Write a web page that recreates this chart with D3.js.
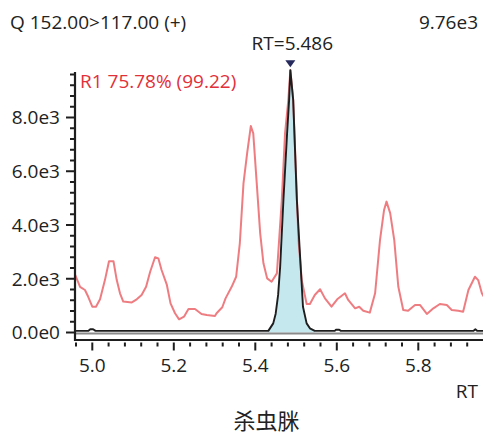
<!DOCTYPE html>
<html><head><meta charset="utf-8">
<script src="https://cdn.jsdelivr.net/npm/d3@7"></script>
<style>body{margin:0;background:#fff}svg{display:block;font-family:"Open Sans",sans-serif}</style>
</head><body><div id="chart"></div>
<script>
// ---- data ----
const title = "杀虫脒";
const headerLeft = "Q 152.00>117.00 (+)";
const headerRight = "9.76e3";
const peakLabel = "RT=5.486";
const ratioLabel = "R1 75.78% (99.22)";
const peakRT = 5.486;
const peakMax = 9760;
const xTickLabels = [5.0, 5.2, 5.4, 5.6, 5.8];
const yTickLabels = [0, 2000, 4000, 6000, 8000];
// qualifier trace (red)
const qualRT = [4.958,4.970,4.982,4.990,5.000,5.009,5.019,5.031,5.041,5.052,5.060,5.068,5.076,5.097,5.109,5.121,5.132,5.142,5.154,5.162,5.170,5.183,5.192,5.203,5.213,5.225,5.236,5.252,5.268,5.281,5.301,5.305,5.319,5.327,5.342,5.353,5.362,5.371,5.380,5.389,5.395,5.403,5.412,5.420,5.429,5.440,5.453,5.465,5.473,5.481,5.486,5.493,5.506,5.514,5.526,5.534,5.546,5.559,5.571,5.587,5.601,5.620,5.628,5.645,5.655,5.665,5.681,5.694,5.706,5.716,5.722,5.731,5.741,5.751,5.763,5.775,5.792,5.804,5.821,5.837,5.853,5.870,5.882,5.898,5.910,5.923,5.939,5.947,5.956,5.962];
const qualInt = [2140,1700,1580,1330,960,960,1235,1950,2650,2650,1950,1460,1150,1120,1235,1395,1700,2260,2800,2760,2325,1770,1085,715,490,590,875,875,690,650,615,715,940,1270,1700,2075,3320,5550,6670,7680,7410,5670,3690,2575,2015,1890,2200,4930,7420,8650,9760,8650,3440,1950,1060,1060,1395,1610,1270,960,1235,1460,1210,900,960,810,740,1460,3440,4560,4870,4440,3440,1700,840,810,1025,1025,690,900,1060,1025,840,810,775,1580,2075,1950,1460,1300];
// quantifier trace (black)
const quantRT = [4.958,4.990,4.995,5.002,5.008,5.432,5.444,5.450,5.456,5.461,5.469,5.478,5.483,5.486,5.493,5.502,5.509,5.517,5.526,5.534,5.546,5.595,5.598,5.606,5.610,5.935,5.940,5.945,5.962];
const quantInt = [60,60,120,120,60,60,340,700,1400,2450,4930,7410,8650,9760,8650,4930,3070,960,340,155,60,60,100,100,60,60,120,60,60];
const fillStart = 5.432, fillEnd = 5.546;

// ---- layout ----
const W = 483, H = 437;
const svg = d3.select("#chart").append("svg").attr("width", W).attr("height", H);
const x = d3.scaleLinear().domain([5.0, 5.8]).range([92.3, 418.3]);
const y = d3.scaleLinear().domain([0, 8000]).range([332.5, 117.5]);
const xLeft = x.invert(75), xRight = x.invert(W);

svg.append("clipPath").attr("id","clip").append("rect")
  .attr("x",76).attr("y",0).attr("width",W-76).attr("height",338);

const plot = svg.append("g").attr("clip-path","url(#clip)");
const qual = qualRT.map((r,i)=>[r,qualInt[i]]);
const quant = quantRT.map((r,i)=>[r,quantInt[i]]);
const line = d3.line().x(d=>x(d[0])).y(d=>y(d[1]));
const area = d3.area().x(d=>x(d[0])).y0(y(0)).y1(d=>y(d[1]));

plot.append("path").datum(quant.filter(d=>d[0]>=fillStart && d[0]<=fillEnd))
  .attr("d", area).attr("fill","#c5e7ee");
plot.append("path").datum(qual).attr("d", line)
  .attr("fill","none").attr("stroke","#ee7d82").attr("stroke-width",2).attr("stroke-linejoin","round");
plot.append("line").attr("x1",x(xLeft)).attr("x2",x(xRight)).attr("y1",y(0)+1).attr("y2",y(0)+1)
  .attr("stroke","#8a8a8a").attr("stroke-width",2);
plot.append("path").datum(quant).attr("d", line)
  .attr("fill","none").attr("stroke","#1e1e1e").attr("stroke-width",1.9).attr("stroke-linejoin","round");

// peak marker
const px = x(peakRT), py = y(peakMax) - 10;
svg.append("path").attr("d", `M${px-5},${py} L${px+5},${py} L${px},${py+7} Z`).attr("fill","#262a5c");

// ---- axes ----
const axisColor = "#1e1e1e";
svg.append("line").attr("x1",75).attr("x2",75).attr("y1",72).attr("y2",341).attr("stroke",axisColor).attr("stroke-width",2.2);
svg.append("line").attr("x1",74).attr("x2",W).attr("y1",340).attr("y2",340).attr("stroke",axisColor).attr("stroke-width",2.2);

const yMinor = d3.range(0, 9601, 400);
svg.append("g").selectAll("line").data(yMinor).join("line")
  .attr("x1", d => d % 2000 === 0 ? 66 : 70).attr("x2", 74)
  .attr("y1", d => y(d)).attr("y2", d => y(d))
  .attr("stroke", axisColor).attr("stroke-width", 2);
const fmtY = v => v === 0 ? "0.0e0" : (v/1000).toFixed(1) + "e3";
svg.append("g").selectAll("text").data(yTickLabels).join("text")
  .attr("x", 60).attr("y", d => y(d)).attr("dy","0.36em").attr("text-anchor","end")
  .attr("font-size",19).attr("fill","#222").text(fmtY);

const xMinor = d3.range(0, 25).map(i => +(4.96 + i*0.04).toFixed(2));
svg.append("g").selectAll("line").data(xMinor).join("line")
  .attr("x1", d => x(d)).attr("x2", d => x(d))
  .attr("y1", 342.5).attr("y2", d => (Math.round(d*100) % 20 === 0) ? 350.5 : 346.5)
  .attr("stroke", axisColor).attr("stroke-width", 2);
svg.append("g").selectAll("text").data(xTickLabels).join("text")
  .attr("x", d => x(d)).attr("y", 372).attr("text-anchor","middle")
  .attr("font-size",19).attr("fill","#222").text(d => d.toFixed(1));

// ---- texts ----
svg.append("text").attr("x",10).attr("y",29).attr("font-size",19).attr("fill","#222").text(headerLeft);
svg.append("text").attr("x",478).attr("y",29).attr("text-anchor","end").attr("font-size",19).attr("fill","#222").text(headerRight);
svg.append("text").attr("x",px+2).attr("y",50).attr("text-anchor","middle").attr("font-size",19).attr("fill","#222").text(peakLabel);
svg.append("text").attr("x",80).attr("y",87.5).attr("font-size",19).attr("fill","#e2303a").text(ratioLabel);
svg.append("text").attr("x",478).attr("y",398).attr("text-anchor","end").attr("font-size",19).attr("fill","#222").text("RT");
svg.append("text").attr("x",266.5).attr("y",429).attr("text-anchor","middle").attr("font-size",22)
  .attr("font-family","'Noto Sans CJK SC',sans-serif").attr("fill","#222").text(title);
</script></body></html>
